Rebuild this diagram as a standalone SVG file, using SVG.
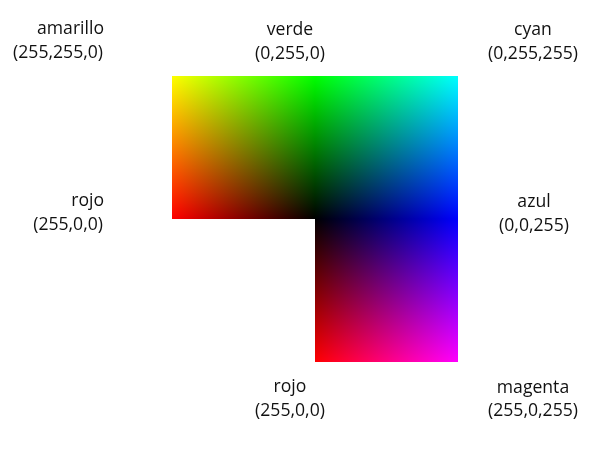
<svg xmlns="http://www.w3.org/2000/svg" width="596" height="451" viewBox="0 0 596 451">
<style>
text{font-family:"Open Sans","Noto Sans","Liberation Sans",sans-serif;font-size:17.6px;fill:#111111}
.m{text-anchor:middle}.e{text-anchor:end}
.blend{mix-blend-mode:lighten}
</style>
<defs>
<linearGradient id="hTop" gradientUnits="userSpaceOnUse" x1="172" y1="0" x2="458" y2="0">
<stop offset="0" stop-color="#ff0000"/><stop offset="0.5" stop-color="#000000"/><stop offset="1" stop-color="#0000ff"/>
</linearGradient>
<linearGradient id="vTop" gradientUnits="userSpaceOnUse" x1="0" y1="76" x2="0" y2="219">
<stop offset="0" stop-color="#00ff00"/><stop offset="1" stop-color="#000000"/>
</linearGradient>
<linearGradient id="hBot" gradientUnits="userSpaceOnUse" x1="315" y1="0" x2="458" y2="0">
<stop offset="0" stop-color="#000000"/><stop offset="1" stop-color="#0000ff"/>
</linearGradient>
<linearGradient id="vBot" gradientUnits="userSpaceOnUse" x1="0" y1="219" x2="0" y2="362">
<stop offset="0" stop-color="#000000"/><stop offset="1" stop-color="#ff0000"/>
</linearGradient>
</defs>
<rect width="596" height="451" fill="#ffffff"/>
<g id="gradient" style="isolation:isolate">
<rect x="172" y="76" width="286" height="143" fill="url(#hTop)"/>
<rect class="blend" x="172" y="76" width="286" height="143" fill="url(#vTop)"/>
<rect x="315" y="219" width="143" height="143" fill="url(#hBot)"/>
<rect class="blend" x="315" y="219" width="143" height="143" fill="url(#vBot)"/>
</g>
<g id="labels">
<text class="e" x="104" y="34">amarillo</text>
<text class="e" x="103" y="58">(255,255,0)</text>
<text class="m" x="290" y="35">verde</text>
<text class="m" x="290" y="59">(0,255,0)</text>
<text class="m" x="533" y="35">cyan</text>
<text class="m" x="533" y="59">(0,255,255)</text>
<text class="e" x="104" y="206">rojo</text>
<text class="e" x="103" y="230">(255,0,0)</text>
<text class="m" x="534" y="207">azul</text>
<text class="m" x="534" y="231">(0,0,255)</text>
<text class="m" x="290" y="392">rojo</text>
<text class="m" x="290" y="416">(255,0,0)</text>
<text class="m" x="533" y="393">magenta</text>
<text class="m" x="533" y="416">(255,0,255)</text>
</g>
</svg>
